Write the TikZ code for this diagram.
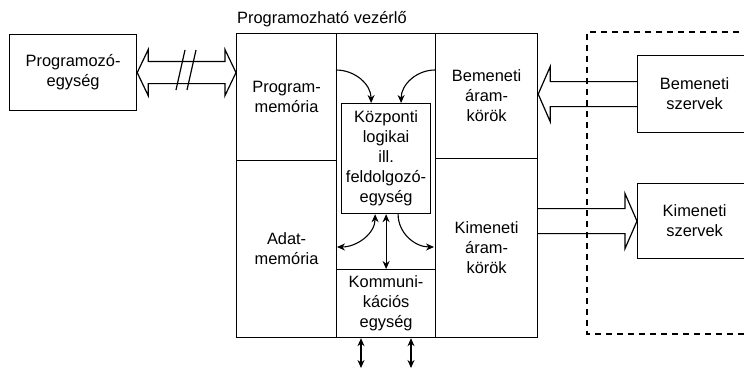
\documentclass[tikz,border=0pt]{standalone}
\usepackage{fontspec}
\setmainfont{Liberation Sans}
\usetikzlibrary{calc,arrows.meta}
\tikzset{
  unit/.style={draw, line width=1.2pt, align=center, inner sep=0pt,
               font=\fontsize{16.4}{20}\selectfont, anchor=north west},
  flow/.style={line width=1.1pt, -{Stealth[length=8pt,width=7pt]}},
  twoway/.style={line width=1.1pt, {Stealth[length=8pt,width=7pt]}-{Stealth[length=8pt,width=7pt]}},
  hollow/.style={line width=1.2pt, line join=miter},
  border/.style={line width=1.2pt, dash pattern=on 6pt off 5pt},
}
\begin{document}
\begin{tikzpicture}[x=1pt, y=-1pt]
    \useasboundingbox (0,0) rectangle (744,369);
    \clip (0,0) rectangle (744,369);
    % external devices
    \draw[border] (750,32) -- (587,32) -- (587,334) -- (750,334);
    \node[unit, minimum width=114pt, minimum height=77pt] (bsz) at (637,55) {Bemeneti\\szervek};
    \node[unit, minimum width=114pt, minimum height=75pt] (ksz) at (637,183) {Kimeneti\\szervek};
    % programming unit
    \node[unit, minimum width=127pt, minimum height=76pt] (prog) at (9,34) {Programozó-\\egység};
    % controller
    \node[font=\fontsize{16.4}{20}\selectfont, anchor=base west, inner sep=0pt] (title) at (237,24) {Programozható vezérlő};
    \node[unit, minimum width=100pt, minimum height=127pt] (pm) at (236,33) {Program-\\memória};
    \node[unit, minimum width=100pt, minimum height=177pt] (am) at (236,160) {Adat-\\memória};
    \node[unit, minimum width=99pt, minimum height=304pt] (mid) at (336,33) {};
    \node[unit, minimum width=102pt, minimum height=125pt] (be) at (435,33) {Bemeneti\\áram-\\körök};
    \node[unit, minimum width=102pt, minimum height=179pt] (ki) at (435,158) {Kimeneti\\áram-\\körök};
    \node[unit, minimum width=89pt, minimum height=110pt] (clu) at (341,103) {Központi\\logikai\\ill.\\feldolgozó-\\egység};
    \node[unit, minimum width=99pt, minimum height=68pt] (komm) at (336,269) {Kommuni-\\kációs\\egység};
    % inner arrows
    \coordinate (pin1) at (336,70);
    \coordinate (pin2) at (435,70);
    \coordinate (pout1) at (337,247);
    \coordinate (pout2) at (434,247);
    \draw[flow] (pin1) to[out=0, in=90] ($(clu.north)+(-15,0)$);
    \draw[flow] (pin2) to[out=180, in=90] ($(clu.north)+(15,0)$);
    \draw[twoway] ($(clu.south)+(-11,0)$) to[out=-90, in=0] (pout1);
    \draw[twoway] (clu.south) -- (komm.north);
    \draw[flow] ($(clu.south)+(12,0)$) to[out=-90, in=180] (pout2);
    % bus
    \coordinate (bus1) at (361,368);
    \coordinate (bus2) at (411,368);
    \draw[twoway] (komm.south -| bus1) -- (bus1);
    \draw[twoway] (komm.south -| bus2) -- (bus2);
    % wide arrows
    \coordinate (r) at (pm.west |- prog.east);
    \draw[hollow] (prog.east) -- ++(11,-23) -- ++(0,12) -- ($(r)+(-11,-11)$) -- ++(0,-12) -- (r)
        -- ++(-11,23) -- ++(0,-12) -- ($(prog.east)+(11,11)$) -- ++(0,12) -- cycle;
    \draw[hollow] (176,90) -- (185,50);
    \draw[hollow] (187,90) -- (196,50);
    \draw[hollow] ($(bsz.west)+(0,-12.5)$) -- ($(be.east |- bsz.west)+(12,-12.5)$) -- ++(0,-15)
        -- (be.east |- bsz.west) -- ++(12,27.5) -- ++(0,-15) -- ($(bsz.west)+(0,12.5)$);
    \draw[hollow] ($(ki.east |- ksz.west)+(0,-12.5)$) -- ($(ksz.west)+(-12,-12.5)$) -- ++(0,-15)
        -- (ksz.west) -- ++(-12,27.5) -- ++(0,-15) -- ($(ki.east |- ksz.west)+(0,12.5)$);
\end{tikzpicture}
\end{document}
